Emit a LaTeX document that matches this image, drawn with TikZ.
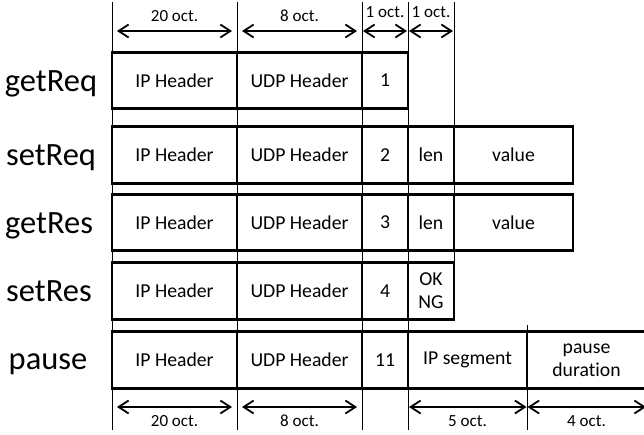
\documentclass[tikz,border=0pt]{standalone}
\usepackage{fontspec}
\setmainfont{Carlito}[Ligatures=CommonOff]
\usetikzlibrary{arrows.meta}
\begin{document}
\begin{tikzpicture}[x=1pt,y=-1pt,
  cell/.style={draw, line width=2.6pt, minimum height=56.5pt, inner sep=0pt,
    align=center, font=\fontsize{19.7}{23}\selectfont},
  rowlabel/.style={inner sep=0pt, anchor=base, font=\fontsize{32.5}{38}\selectfont},
  guide/.style={line width=0.9pt},
  dimarrow/.style={{Straight Barb[length=10pt,width=13pt]}-{Straight Barb[length=10pt,width=13pt]}, line width=1.8pt},
  dimlabel/.style={inner sep=0pt, font=\fontsize{17}{20}\selectfont}]
\useasboundingbox (0,0) rectangle (644,434);
\clip (0,0) rectangle (644,434);

% field boundaries
\coordinate (g1t) at (112,2);   \coordinate (g1b) at (112,430);
\coordinate (g2t) at (237,2);   \coordinate (g2b) at (237,430);
\coordinate (g3t) at (362,2);   \coordinate (g3b) at (362,430);
\coordinate (g4t) at (408,2);   \coordinate (g4b) at (408,430);
\coordinate (g5t) at (454,2);   \coordinate (g5b) at (454,320);
\coordinate (g6t) at (527,325); \coordinate (g6b) at (527,430);
\coordinate (g7)  at (646,407);
\foreach \g in {1,...,6} \draw[guide] (g\g t) -- (g\g b);

% field sizes, top
\coordinate (a1) at (112,31); \coordinate (a2) at (237,31);
\coordinate (a3) at (362,31); \coordinate (a4) at (408,31);
\coordinate (a5) at (454,31);
\draw[dimarrow, shorten <=5pt, shorten >=5pt] (a1) -- (a2);
\draw[dimarrow, shorten <=5pt, shorten >=5pt] (a2) -- (a3);
\draw[dimarrow, shorten <=1pt, shorten >=1pt] (a3) -- (a4);
\draw[dimarrow, shorten <=1pt, shorten >=1pt] (a4) -- (a5);
\node[dimlabel] (t1) at (174.5,16) {20 oct.};
\node[dimlabel] (t2) at (299.5,16) {8 oct.};
\node[dimlabel] (t3) at (385,12) {1 oct.};
\node[dimlabel] (t4) at (431,12) {1 oct.};

% field sizes, bottom
\coordinate (b1) at (112,407); \coordinate (b2) at (237,407);
\coordinate (b3) at (362,407); \coordinate (b4) at (408,407);
\coordinate (b5) at (527,407);
\draw[dimarrow, shorten <=5pt, shorten >=5pt] (b1) -- (b2);
\draw[dimarrow, shorten <=5pt, shorten >=5pt] (b2) -- (b3);
\draw[dimarrow, shorten <=1pt, shorten >=0.5pt] (b4) -- (b5);
\draw[dimarrow, shorten <=0.5pt] (b5) -- (g7);
\node[dimlabel] (u1) at (174.5,421) {20 oct.};
\node[dimlabel] (u2) at (299.5,421) {8 oct.};
\node[dimlabel] (u3) at (467.5,421) {5 oct.};
\node[dimlabel] (u4) at (586.5,421) {4 oct.};

% getReq
\node[rowlabel] (l1) at (51,91) {getReq};
\node[cell, minimum width=125pt] (r1ip)  at (174.5,80.5) {IP Header};
\node[cell, minimum width=125pt] (r1udp) at (299.5,80.5) {UDP Header};
\node[cell, minimum width=46pt]  (r1id)  at (385,80.5) {1};

% setReq
\node[rowlabel] (l2) at (51,165.5) {setReq};
\node[cell, minimum width=125pt] (r2ip)  at (174.5,155) {IP Header};
\node[cell, minimum width=125pt] (r2udp) at (299.5,155) {UDP Header};
\node[cell, minimum width=46pt]  (r2id)  at (385,155) {2};
\node[cell, minimum width=46pt]  (r2len) at (431,155) {len};
\node[cell, minimum width=119pt] (r2val) at (513.5,155) {value};

% getRes
\node[rowlabel] (l3) at (49,233) {getRes};
\node[cell, minimum width=125pt] (r3ip)  at (174.5,222.5) {IP Header};
\node[cell, minimum width=125pt] (r3udp) at (299.5,222.5) {UDP Header};
\node[cell, minimum width=46pt]  (r3id)  at (385,222.5) {3};
\node[cell, minimum width=46pt]  (r3len) at (431,222.5) {len};
\node[cell, minimum width=119pt] (r3val) at (513.5,222.5) {value};

% setRes
\node[rowlabel] (l4) at (49,301.5) {setRes};
\node[cell, minimum width=125pt] (r4ip)  at (174.5,291) {IP Header};
\node[cell, minimum width=125pt] (r4udp) at (299.5,291) {UDP Header};
\node[cell, minimum width=46pt]  (r4id)  at (385,291) {4};
\node[cell, minimum width=46pt]  (r4st)  at (431,291) {OK\\NG};

% pause
\node[rowlabel] (l5) at (48,369.5) {pause};
\node[cell, minimum width=125pt] (r5ip)  at (174.5,360) {IP Header};
\node[cell, minimum width=125pt] (r5udp) at (299.5,360) {UDP Header};
\node[cell, minimum width=46pt]  (r5id)  at (385,360) {11};
\node[cell, minimum width=119pt] (r5seg) at (467.5,360) {IP segment};
\node[cell, minimum width=119pt] (r5dur) at (586.5,360) {pause\\duration};
\end{tikzpicture}
\end{document}
